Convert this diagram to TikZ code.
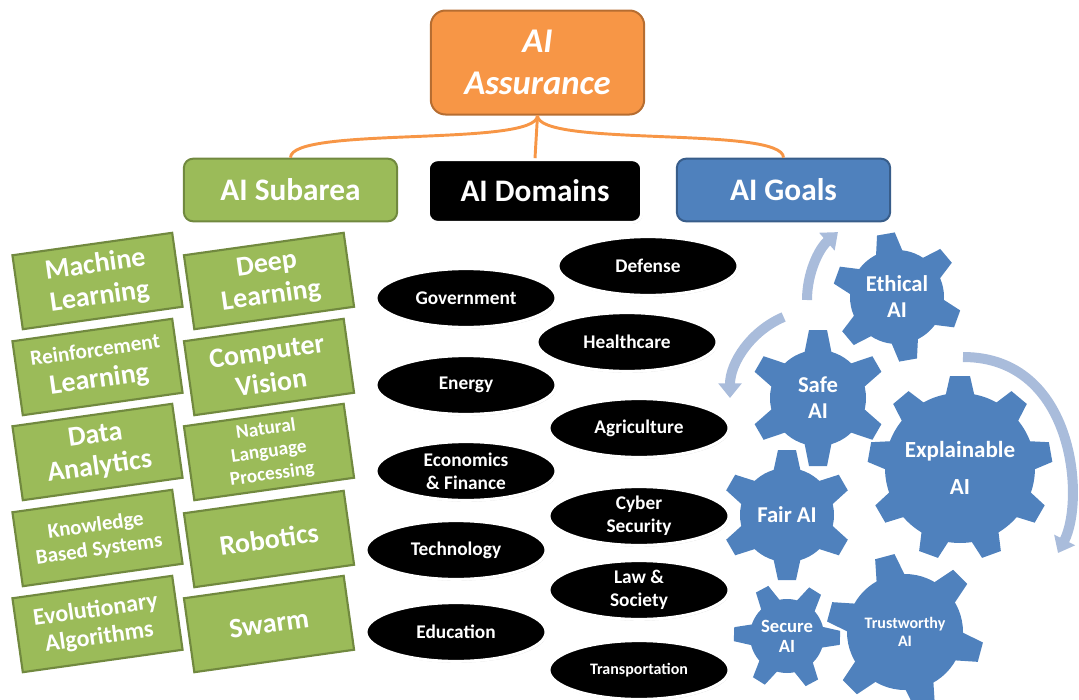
\documentclass[tikz,border=0pt]{standalone}
\usepackage{fontspec}
\setmainfont{Carlito}
\usetikzlibrary{shapes.geometric,arrows.meta,shadows,calc}
\definecolor{orF}{HTML}{F79646}
\definecolor{orD}{HTML}{B66D31}
\definecolor{grF}{HTML}{9BBB59}
\definecolor{grD}{HTML}{71893F}
\definecolor{blF}{HTML}{4F81BD}
\definecolor{blD}{HTML}{385D8A}
\definecolor{arC}{HTML}{A9BCDB}
\newcommand\drawgear[7]{%
  \fill[blF] (#1) circle (#2);
  \foreach \k in {1,...,#4}{
    \fill[blF, shift={(#1)}, rotate=#5+\k*360/#4] (#2-5,-#7) -- (#3,-#6) -- (#3,#6) -- (#2-5,#7) -- cycle;}
}
\tikzset{
  topbox/.style={rectangle, rounded corners=11pt, fill=orF, draw=orD, line width=1.5pt,
    minimum width=160pt, minimum height=78pt, text=white, align=center,
    font=\bfseries\itshape\fontsize{26}{31}\selectfont},
  headbox/.style={rectangle, rounded corners=7pt, line width=1.5pt, minimum width=160pt,
    minimum height=47pt, text=white, font=\bfseries\fontsize{23.5}{28}\selectfont},
  subbox/.style={rectangle, fill=grF, draw=grD, line width=1.6pt, minimum width=121pt,
    minimum height=56pt, rotate=8, text=white, align=center, inner sep=1pt},
  dom/.style={ellipse, fill=black, draw=white, line width=2.2pt, minimum width=135pt,
    minimum height=44pt, text=white, align=center, inner sep=0pt,
    font=\bfseries\fontsize{14.5}{17.5}\selectfont,
    drop shadow={shadow xshift=0.6pt, shadow yshift=-1pt, opacity=0.35, fill=gray}},
  gtext/.style={text=white, align=center, inner sep=0pt},
  orline/.style={draw=orF, line width=2.2pt},
  cyc/.style={draw=arC, line width=7.5pt, -{Triangle[length=11pt,width=17pt]}}
}
\begin{document}
\begin{tikzpicture}[x=0.75pt,y=-0.75pt]
\useasboundingbox (0,0) rectangle (1079,700);
\begin{scope}
\clip (0,0) rectangle (1079,700);

% top level
\node[topbox] (asr) at (537.5,62.5) {AI\\Assurance};
\node[headbox, fill=grF, draw=grD] (sub) at (290.5,190) {AI Subarea};
\node[headbox, fill=black, draw=white, line width=2.2pt,
  drop shadow={shadow xshift=0.6pt, shadow yshift=-1pt, opacity=0.35, fill=gray}] (domh) at (535,191) {AI Domains};
\node[headbox, fill=blF, draw=blD] (goal) at (783.5,190) {AI Goals};

\draw[orline] (asr.south) .. controls +(0,32) and +(0,-32) .. (sub.north);
\draw[orline] (asr.south) -- (domh.north);
\draw[orline] (asr.south) .. controls +(0,32) and +(0,-32) .. (goal.north);

% subareas
\node[subbox, font=\bfseries\fontsize{21}{24}\selectfont] (ml) at (97.5,281) {Machine\\Learning};
\node[subbox, font=\bfseries\fontsize{21}{23}\selectfont] (rl) at (97.5,367) {{\fontsize{16}{17}\selectfont Reinforcement}\\Learning};
\node[subbox, font=\bfseries\fontsize{21}{24}\selectfont] (da) at (97.5,452) {Data\\Analytics};
\node[subbox, font=\bfseries\fontsize{15.7}{18}\selectfont] (kb) at (97.5,538) {Knowledge\\Based Systems};
\node[subbox, font=\bfseries\fontsize{18}{20.5}\selectfont] (ea) at (97.5,624) {Evolutionary\\Algorithms};
\node[subbox, font=\bfseries\fontsize{21}{24}\selectfont] (dl) at (269,281) {Deep\\Learning};
\node[subbox, font=\bfseries\fontsize{21}{24}\selectfont] (cv) at (269,367) {Computer\\Vision};
\node[subbox, font=\bfseries\fontsize{14.5}{17}\selectfont] (nlp) at (269,452) {Natural\\Language\\Processing};
\node[subbox, font=\bfseries\fontsize{21}{24}\selectfont] (rob) at (269,539) {Robotics};
\node[subbox, font=\bfseries\fontsize{21}{24}\selectfont] (sw) at (269,624) {Swarm};

% domains
\node[dom] (def) at (648,266) {Defense};
\node[dom] (gov) at (466,298) {Government};
\node[dom] (hc) at (627,342) {Healthcare};
\node[dom] (en) at (466,385) {Energy};
\node[dom] (agr) at (639,428) {Agriculture};
\node[dom] (eco) at (466,471) {Economics\\\& Finance};
\node[dom] (cyb) at (639,516) {Cyber\\Security};
\node[dom] (tech) at (456,550) {Technology};
\node[dom] (law) at (639,590) {Law \&\\Society};
\node[dom] (edu) at (456,632) {Education};
\node[dom, font=\bfseries\fontsize{12}{14}\selectfont] (tra) at (639,670) {Transportation};

% gears
\coordinate (gEth) at (897,297);
\coordinate (gSafe) at (818,398);
\coordinate (gFair) at (787,515);
\coordinate (gExp) at (960,468);
\coordinate (gSec) at (787,636);
\coordinate (gTru) at (905,632);
\drawgear{gEth}{47}{64}{6}{100}{9}{14}
\drawgear{gSafe}{48}{68}{6}{90}{9}{14}
\drawgear{gFair}{47}{65}{6}{90}{9}{14}
\drawgear{gExp}{75}{92}{9}{90}{10}{15}
\drawgear{gSec}{37}{53}{6}{118}{7}{11}
\drawgear{gTru}{58}{78}{6}{105}{10}{15}

\node[gtext, font=\bfseries\fontsize{17}{19.5}\selectfont] (eth) at (gEth) {Ethical\\AI};
\node[gtext, font=\bfseries\fontsize{17}{19.5}\selectfont] (safe) at (gSafe) {Safe\\AI};
\node[gtext, font=\bfseries\fontsize{17}{19.5}\selectfont] (fair) at (gFair) {Fair AI};
\node[gtext, font=\bfseries\fontsize{17.3}{28}\selectfont] (expl) at (gExp) {Explainable\\AI};
\node[gtext, font=\bfseries\fontsize{14}{15}\selectfont] (sec) at (gSec) {Secure\\AI};
\node[gtext, font=\bfseries\fontsize{12}{13}\selectfont] (tru) at (gTru) {Trustworthy\\AI};

% cycle arrows
\coordinate (cA) at (897,300);
\coordinate (cB) at (818,398);
\coordinate (aS) at (963,357);
\coordinate (aE) at (1058,553);
\draw[cyc] ($(cA)+(180:90)$) arc (180:229:90);
\draw[cyc] ($(cB)+(-113:88)$) arc (-113:-180:88);
\draw[cyc] (aS) .. controls (1075,357) and (1085,500) .. (aE);
\end{scope}
\end{tikzpicture}
\end{document}
